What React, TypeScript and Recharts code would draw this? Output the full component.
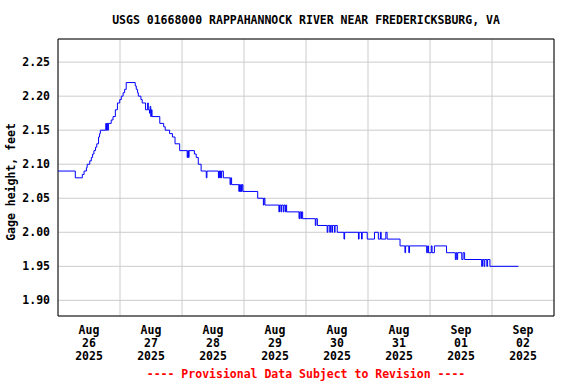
import React from "react"
import { CartesianGrid, Line, LineChart, ReferenceArea, XAxis, YAxis } from "recharts"

// Horas desde 26/ago/2025 00:00 em que a cota muda (série em degraus)
const hoursSinceAug26 = [
  0, 6.7, 9.4, 10.1, 11.0, 11.3, 12.3, 12.9, 13.4, 13.9, 14.5, 15.0, 15.7, 16.1, 16.4,
  18.5, 18.75, 19.0, 19.25, 19.5, 20.6, 21.3, 22.2, 23.0, 23.9, 24.5, 25.2, 25.8, 26.4,
  29.9, 30.3, 30.8, 31.1, 32.1, 32.6, 33.9, 34.7, 34.95, 35.4, 35.65, 35.9, 36.15, 36.4,
  39.4, 40.9, 41.5, 43.2, 44.3, 45.3, 47.1, 50.0, 50.25, 50.5, 50.75, 52.8, 53.5, 54.3,
  55.4, 57.4, 57.65, 62.1, 62.35, 62.6, 62.85, 63.1, 63.35, 64.0, 66.6, 66.85, 67.2,
  70.0, 70.25, 70.5, 70.75, 71.0, 71.25, 71.6, 77.3, 79.5, 79.75, 80.1, 85.5, 85.75,
  86.3, 86.55, 87.2, 87.45, 88.0, 88.25, 88.5, 93.3, 93.55, 94.0, 94.25, 94.7, 99.6,
  99.85, 100.4, 104.2, 104.45, 105.2, 105.45, 106.0, 106.25, 107.0, 107.25, 108.1,
  110.7, 110.95, 116.3, 116.55, 117.5, 117.75, 119.7, 122.5, 124.0, 124.8, 125.1,
  126.9, 127.4, 132.4, 134.3, 134.55, 135.8, 136.05, 142.7, 143.1, 143.4, 144.5,
  144.8, 145.7, 150.4, 153.8, 154.1, 154.4, 154.7, 156.3, 156.8, 157.4, 164.0, 164.3,
  164.9, 165.2, 166.0, 166.3, 167.2, 178.2,
]

const gageHeightFt = [
  2.09, 2.08, 2.085, 2.09, 2.095, 2.1, 2.105, 2.11, 2.115, 2.12, 2.125, 2.13, 2.14, 2.145, 2.15,
  2.16, 2.15, 2.16, 2.15, 2.16, 2.165, 2.17, 2.18, 2.19, 2.195, 2.2, 2.205, 2.21, 2.22,
  2.215, 2.21, 2.205, 2.2, 2.195, 2.19, 2.18, 2.19, 2.18, 2.175, 2.185, 2.17, 2.18, 2.17,
  2.16, 2.155, 2.15, 2.145, 2.14, 2.13, 2.12, 2.11, 2.12, 2.11, 2.12, 2.115, 2.11, 2.1,
  2.09, 2.08, 2.09, 2.08, 2.09, 2.08, 2.09, 2.08, 2.09, 2.08, 2.07, 2.08, 2.07,
  2.06, 2.07, 2.06, 2.07, 2.06, 2.07, 2.06, 2.05, 2.04, 2.05, 2.04, 2.03, 2.04,
  2.03, 2.04, 2.03, 2.04, 2.03, 2.04, 2.03, 2.02, 2.03, 2.02, 2.03, 2.02, 2.01,
  2.02, 2.01, 2.0, 2.01, 2.0, 2.01, 2.0, 2.01, 2.0, 2.01, 2.0,
  1.99, 2.0, 1.99, 2.0, 1.99, 2.0, 1.99, 2.0, 1.99, 2.0, 1.99,
  2.0, 1.99, 1.98, 1.97, 1.98, 1.97, 1.98, 1.97, 1.98, 1.97, 1.98,
  1.97, 1.98, 1.97, 1.96, 1.97, 1.96, 1.97, 1.96, 1.97, 1.96, 1.95, 1.96,
  1.95, 1.96, 1.95, 1.96, 1.95, 1.95,
]

const tickMonths = ["Aug", "Aug", "Aug", "Aug", "Aug", "Aug", "Sep", "Sep"]
const tickDays = ["26", "27", "28", "29", "30", "31", "01", "02"]
const tickYears = ["2025", "2025", "2025", "2025", "2025", "2025", "2025", "2025"]
const yTicks = [1.9, 1.95, 2.0, 2.05, 2.1, 2.15, 2.2, 2.25]

const dados = hoursSinceAug26.map((h, i) => ({ h, gage: gageHeightFt[i] }))
const dayTicks = tickDays.map((_, i) => i * 24)

const FONT = "'DejaVu Sans Mono', monospace"
const HALF_DAY_PX = 31
const Y_MIN = 1.877
const Y_MAX = 2.284

function DayTick({ x, y, payload }: any) {
  const i = Math.round(payload.value / 24)
  const cx = x + HALF_DAY_PX
  return (
    <text x={cx} y={y} textAnchor="middle" fontFamily={FONT} fontWeight="bold" fontSize={11.5} fill="#000">
      <tspan x={cx} dy={10}>{tickMonths[i]}</tspan>
      <tspan x={cx} dy={13}>{tickDays[i]}</tspan>
      <tspan x={cx} dy={13}>{tickYears[i]}</tspan>
    </text>
  )
}

export default function App() {
  return (
    <div style={{ position: "absolute", left: 0, top: 0, width: 576, height: 384, background: "#fff" }}>
      <LineChart width={576} height={384} data={dados} margin={{ top: 39, right: 22, left: 0, bottom: 23 }}>
        <CartesianGrid stroke="#cccccc" />
        <XAxis
          dataKey="h"
          type="number"
          domain={[0, 192]}
          ticks={dayTicks}
          interval={0}
          height={45}
          axisLine={false}
          tickLine={false}
          tick={<DayTick />}
        />
        <YAxis
          type="number"
          domain={[Y_MIN, Y_MAX]}
          ticks={yTicks}
          interval={0}
          allowDataOverflow
          width={58}
          axisLine={false}
          tickLine={false}
          tickFormatter={(v: number) => v.toFixed(2)}
          tick={{ fill: "#000", fontFamily: FONT, fontWeight: "bold", fontSize: 11.5 }}
        />
        <ReferenceArea x1={0} x2={192} y1={Y_MIN} y2={Y_MAX} fill="none" stroke="#000" strokeWidth={1} fillOpacity={0} />
        <Line
          type="stepAfter"
          dataKey="gage"
          stroke="#0000ff"
          strokeWidth={1}
          dot={false}
          isAnimationActive={false}
        />
      </LineChart>
      <svg width={576} height={384} style={{ position: "absolute", left: 0, top: 0, pointerEvents: "none" }}>
        <text x={306} y={24} textAnchor="middle" fontFamily={FONT} fontWeight="bold" fontSize={11.5} fill="#000">
          USGS 01668000 RAPPAHANNOCK RIVER NEAR FREDERICKSBURG, VA
        </text>
        <text
          x={15}
          y={182}
          transform="rotate(-90 15 182)"
          textAnchor="middle"
          fontFamily={FONT}
          fontWeight="bold"
          fontSize={11.5}
          fill="#000"
        >
          Gage height, feet
        </text>
        <text x={306} y={378} textAnchor="middle" fontFamily={FONT} fontWeight="bold" fontSize={11.5} fill="#ff0000">
          ---- Provisional Data Subject to Revision ----
        </text>
      </svg>
    </div>
  )
}
